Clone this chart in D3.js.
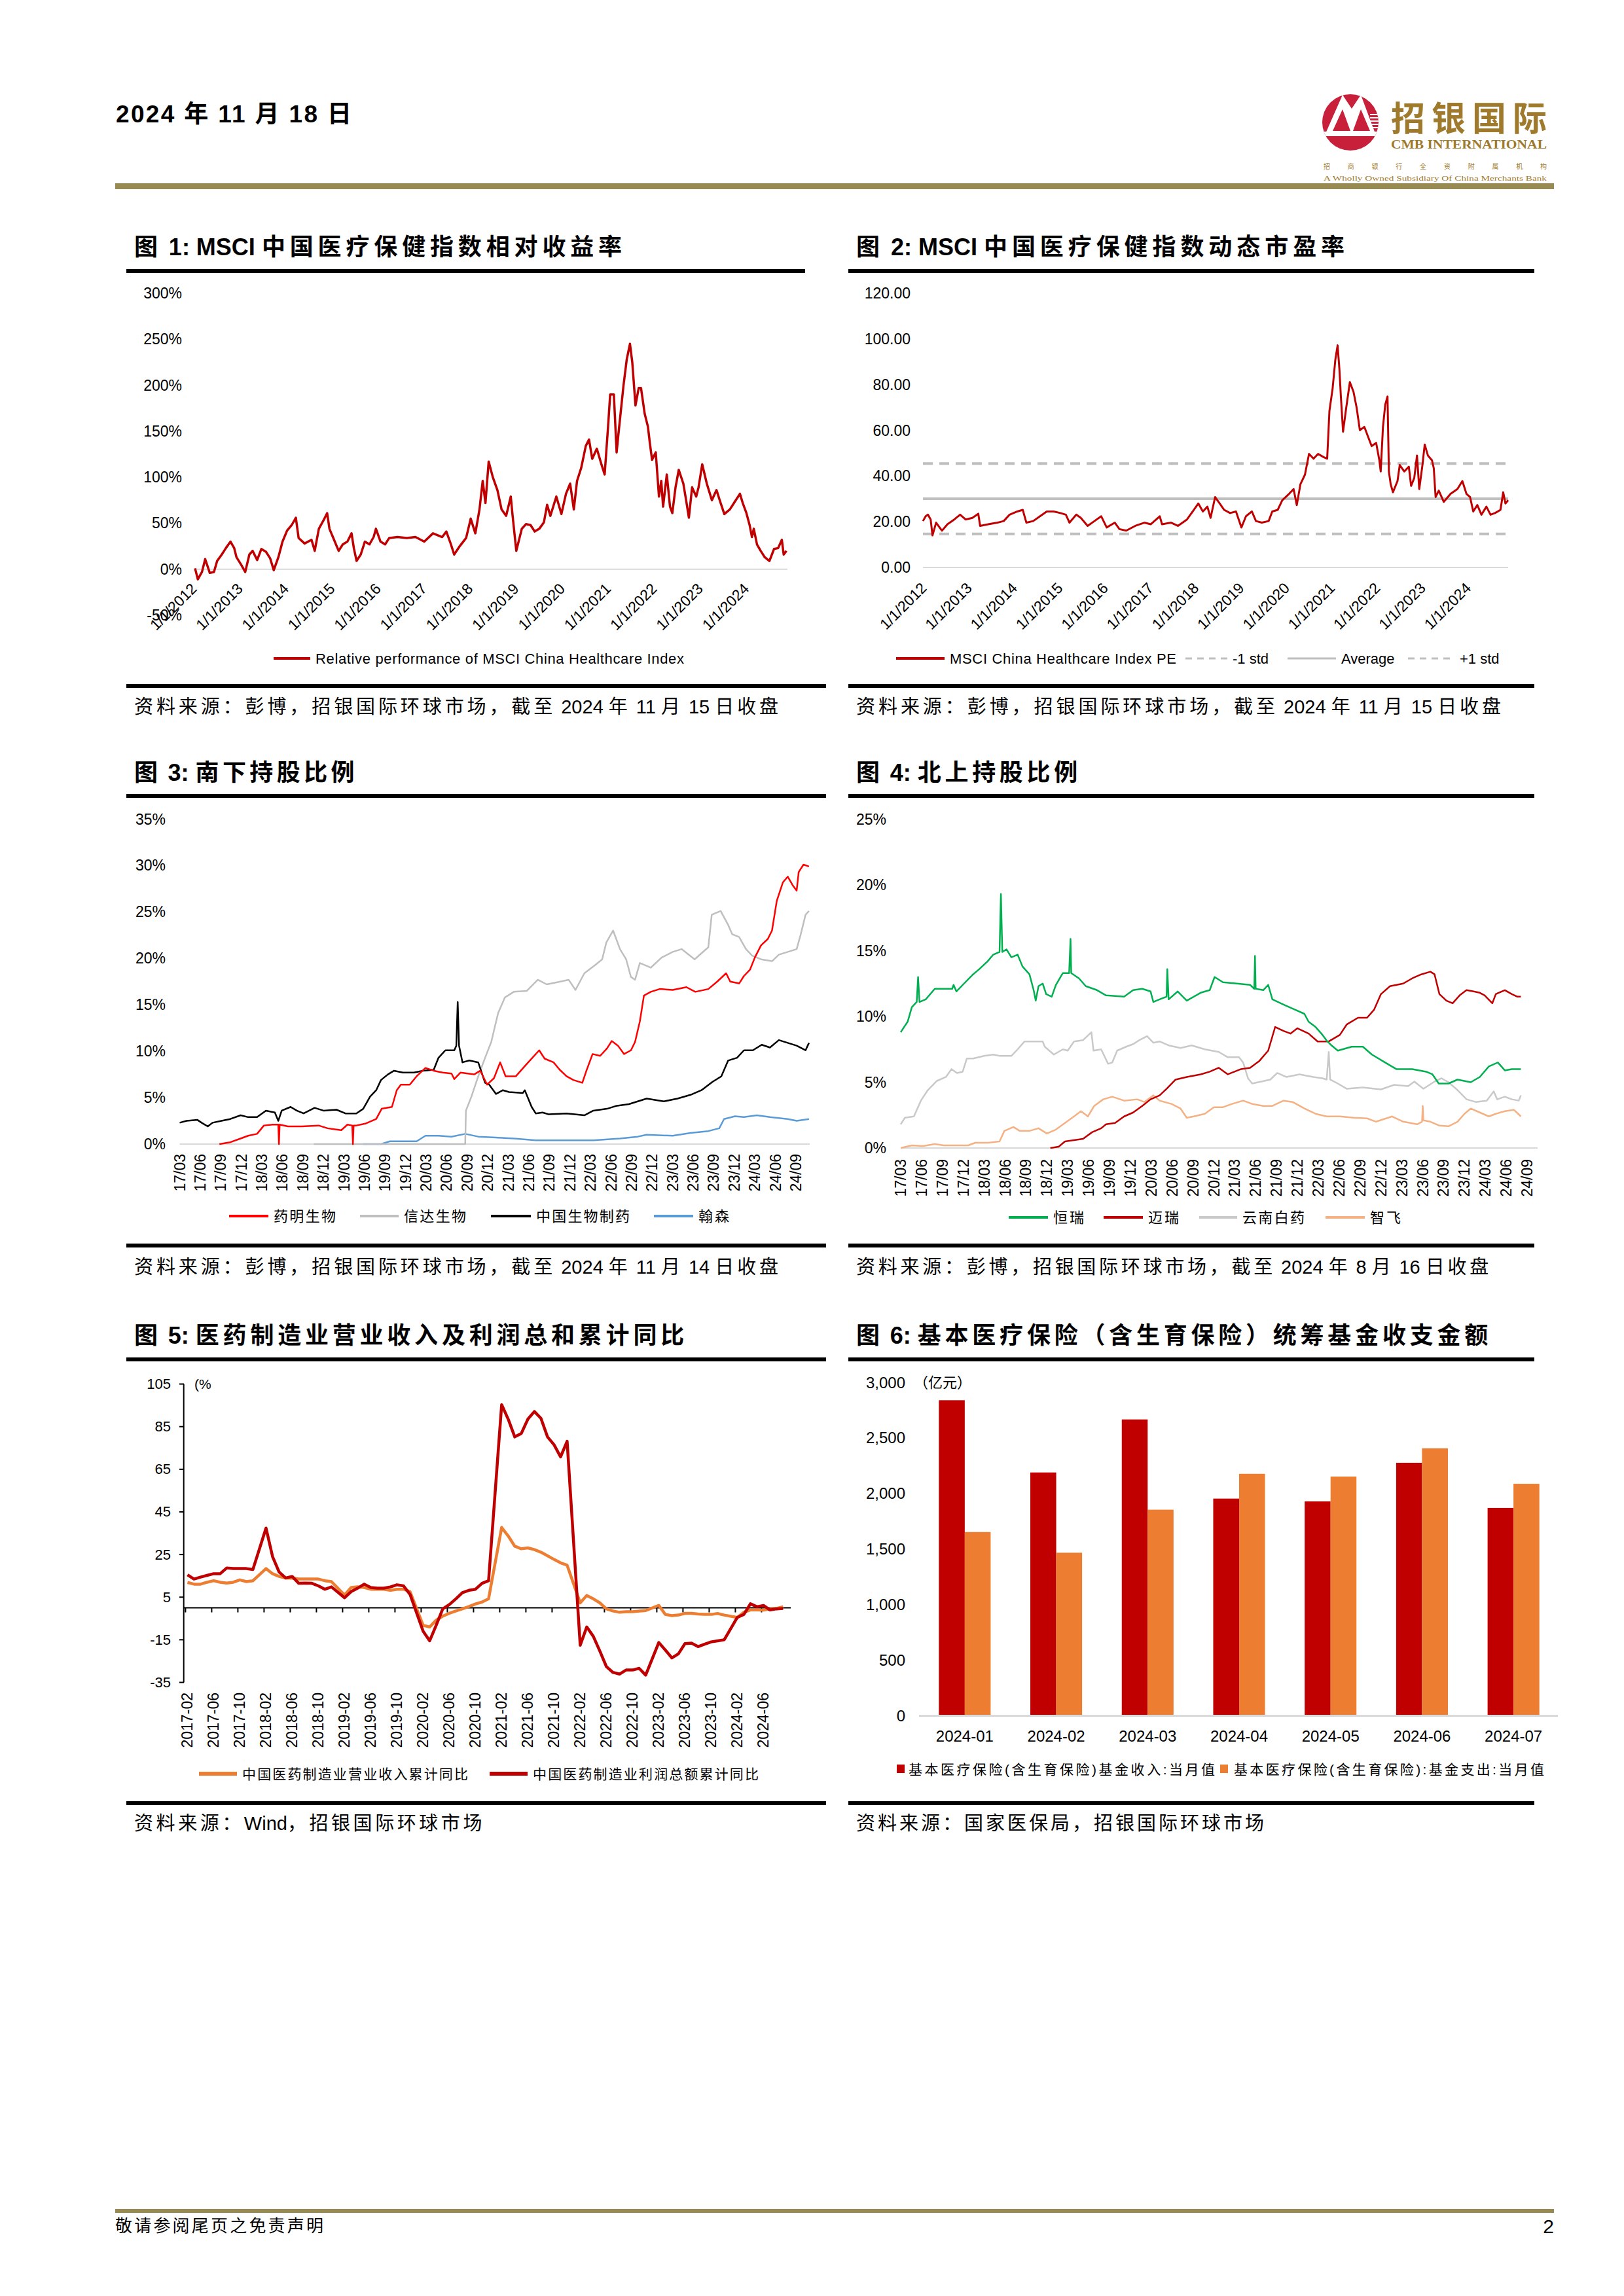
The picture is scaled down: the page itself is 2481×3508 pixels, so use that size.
<!DOCTYPE html>
<html>
<head>
<meta charset="utf-8">
<script src="https://cdn.jsdelivr.net/npm/d3@7"></script>
<style>
body{margin:0;background:#fff}
text{font-family:"Liberation Sans",Arial,"Noto Sans CJK SC",sans-serif;fill:#000}
</style>
</head>
<body>
<div id="page"></div>
<script>

// -----------------------------
// DATA
// -----------------------------

// fig 1: relative performance (year, %)
const relPerf = [[2012.00,1],[2012.06,-11],[2012.15,-3],[2012.22,11],[2012.32,-4],[2012.41,-3],[2012.48,9],[2012.58,16],[2012.67,23],[2012.77,30],[2012.85,23],[2012.90,13],[2013.00,5],[2013.09,-3],[2013.18,16],[2013.25,20],[2013.35,10],[2013.44,22],[2013.54,19],[2013.63,12],[2013.71,-1],[2013.81,13],[2013.90,30],[2014.00,42],[2014.10,48],[2014.19,56],[2014.25,34],[2014.38,28],[2014.53,32],[2014.60,20],[2014.69,44],[2014.79,53],[2014.87,61],[2014.92,44],[2015.02,32],[2015.12,20],[2015.21,27],[2015.31,30],[2015.40,39],[2015.45,23],[2015.51,9],[2015.60,16],[2015.69,30],[2015.79,27],[2015.88,35],[2015.93,44],[2016.03,30],[2016.13,27],[2016.22,34],[2016.40,35],[2016.60,34],[2016.79,35],[2016.98,30],[2017.17,39],[2017.37,35],[2017.46,41],[2017.56,27],[2017.63,16],[2017.75,25],[2017.89,34],[2017.99,55],[2018.09,39],[2018.18,65],[2018.25,96],[2018.31,72],[2018.38,117],[2018.47,100],[2018.57,86],[2018.66,65],[2018.76,58],[2018.86,79],[2018.90,58],[2018.98,20],[2019.10,44],[2019.19,49],[2019.29,48],[2019.38,41],[2019.48,44],[2019.58,51],[2019.65,70],[2019.72,58],[2019.85,79],[2019.96,60],[2020.06,82],[2020.15,93],[2020.23,65],[2020.30,96],[2020.39,110],[2020.49,134],[2020.56,141],[2020.63,120],[2020.73,131],[2020.83,114],[2020.90,103],[2020.97,152],[2021.02,190],[2021.10,190],[2021.16,127],[2021.21,152],[2021.31,200],[2021.38,228],[2021.45,245],[2021.50,225],[2021.57,178],[2021.64,197],[2021.69,197],[2021.77,169],[2021.84,155],[2021.88,138],[2021.93,119],[2022.01,127],[2022.08,79],[2022.13,96],[2022.17,68],[2022.25,103],[2022.32,68],[2022.37,61],[2022.44,89],[2022.51,108],[2022.61,93],[2022.67,75],[2022.73,56],[2022.80,89],[2022.89,79],[2022.94,89],[2023.02,114],[2023.12,93],[2023.23,75],[2023.33,86],[2023.42,72],[2023.50,60],[2023.62,65],[2023.71,72],[2023.84,82],[2023.90,72],[2023.98,61],[2024.05,48],[2024.10,35],[2024.14,44],[2024.21,27],[2024.29,20],[2024.38,13],[2024.48,9],[2024.58,22],[2024.67,23],[2024.75,32],[2024.79,16],[2024.85,20]]

// fig 2: forward PE (year, x)
const peData = [[2012.00,20.3],[2012.06,22.4],[2012.11,23.1],[2012.17,21.0],[2012.21,14.0],[2012.29,19.6],[2012.42,16.1],[2012.54,18.9],[2012.69,21.0],[2012.82,23.1],[2012.94,21.0],[2013.09,21.7],[2013.22,23.5],[2013.26,18.2],[2013.44,18.9],[2013.64,19.6],[2013.78,20.3],[2013.91,23.1],[2014.08,24.5],[2014.20,25.2],[2014.28,19.6],[2014.43,20.3],[2014.58,22.4],[2014.73,24.5],[2014.88,24.5],[2015.03,23.8],[2015.15,23.1],[2015.23,19.6],[2015.38,23.1],[2015.48,21.7],[2015.63,18.2],[2015.78,20.3],[2015.93,22.4],[2016.05,17.5],[2016.23,19.6],[2016.33,16.8],[2016.48,16.1],[2016.68,18.2],[2016.88,19.6],[2017.02,18.9],[2017.22,22.4],[2017.27,18.9],[2017.47,19.6],[2017.62,18.2],[2017.82,21.0],[2017.97,25.2],[2018.07,28.0],[2018.17,24.5],[2018.27,26.6],[2018.34,21.7],[2018.44,30.8],[2018.54,28.0],[2018.64,25.2],[2018.77,23.8],[2018.90,24.5],[2019.02,17.5],[2019.12,22.4],[2019.25,24.5],[2019.34,20.3],[2019.47,19.6],[2019.62,20.3],[2019.70,24.5],[2019.82,25.2],[2019.92,29.4],[2020.07,32.2],[2020.17,34.3],[2020.24,27.3],[2020.32,36.4],[2020.42,40.6],[2020.51,49.7],[2020.61,47.6],[2020.71,49.7],[2020.83,48.3],[2020.91,47.6],[2020.96,68.5],[2021.03,78.3],[2021.09,90.9],[2021.14,97.2],[2021.18,86.7],[2021.21,75.5],[2021.26,59.4],[2021.33,69.9],[2021.41,81.1],[2021.49,76.9],[2021.56,69.9],[2021.63,60.1],[2021.73,61.5],[2021.81,57.3],[2021.89,53.1],[2021.99,54.5],[2022.06,46.9],[2022.09,42.0],[2022.14,61.5],[2022.19,71.3],[2022.24,74.8],[2022.27,42.0],[2022.31,36.4],[2022.36,32.9],[2022.46,37.8],[2022.51,44.8],[2022.61,42.0],[2022.71,44.1],[2022.76,35.7],[2022.83,39.2],[2022.89,49.0],[2022.94,34.3],[2023.01,44.8],[2023.06,53.8],[2023.13,49.0],[2023.22,46.9],[2023.26,43.4],[2023.30,30.8],[2023.37,33.6],[2023.48,28.7],[2023.63,32.2],[2023.78,34.3],[2023.89,37.8],[2023.98,32.2],[2024.06,30.8],[2024.13,24.5],[2024.22,27.3],[2024.31,23.1],[2024.42,26.6],[2024.51,23.1],[2024.61,23.8],[2024.73,25.2],[2024.79,32.9],[2024.84,28.0],[2024.90,29.4]]
const peAverage = 30.1
const pePlusStd = 45.5
const peMinusStd = 14.7

const yearTicks = [2012,2013,2014,2015,2016,2017,2018,2019,2020,2021,2022,2023,2024]

// fig 3 / fig 4: (months since 2017-03, % held)
const quarterLabels = ["17/03","17/06","17/09","17/12","18/03","18/06","18/09","18/12","19/03","19/06","19/09","19/12","20/03","20/06","20/09","20/12","21/03","21/06","21/09","21/12","22/03","22/06","22/09","22/12","23/03","23/06","23/09","23/12","24/03","24/06","24/09"]

const wuxiBio = [[5.8,0],[7.4,0.2],[8.9,0.6],[10,0.9],[11.3,1.1],[12.3,2.0],[13.6,2.1],[14.4,2.1],[14.5,0],[14.6,2.1],[15.8,1.9],[17.8,1.9],[20.3,2.0],[21.6,1.7],[23.6,1.5],[24.5,2.1],[25.2,2.0],[25.3,0],[25.4,2.0],[25.8,2.0],[27.1,2.2],[28.7,2.7],[29.5,3.8],[31,4.0],[31.7,5.8],[32.3,6.4],[33.6,6.4],[34.6,7.3],[35.9,8.2],[37.1,7.9],[38.4,7.7],[39.7,7.6],[40.1,7.0],[41,7.7],[43,7.5],[43.9,7.9],[44.9,6.4],[45.9,7.1],[46.8,8.8],[47.6,7.3],[49.1,7.3],[50.4,8.4],[52.5,10.1],[53.3,9.2],[54.6,8.8],[55.5,8.0],[56.5,7.3],[57.5,6.9],[58.8,6.6],[59.4,7.9],[60.3,9.7],[61.4,9.5],[62.4,10.3],[63.1,11.1],[64,10.6],[64.9,9.7],[65.9,10.1],[66.5,11.0],[67.2,13.2],[67.8,16.0],[68.8,16.4],[70.1,16.7],[72,16.6],[74,16.9],[75.3,16.4],[77.2,16.7],[78.5,17.5],[79.8,18.4],[80.4,17.5],[81.7,17.3],[82.4,18.1],[83.3,18.8],[84,20.1],[84.9,21.4],[85.9,22.1],[86.5,23.0],[87.2,26.2],[88.1,28.2],[88.8,28.8],[89.5,27.9],[90.1,27.3],[90.4,29.3],[91.1,30.1],[91.9,29.9]]
const innovent = [[19.6,0],[41.7,0],[41.8,3.6],[42.6,5.1],[43.6,7.3],[44.6,9.3],[45.5,11.0],[46.5,14.1],[47.5,15.8],[48.8,16.4],[50.7,16.5],[52.3,17.7],[53.6,17.2],[55.6,17.5],[56.8,17.7],[57.8,16.6],[59.1,18.4],[60.7,19.3],[61.7,19.9],[62.3,21.7],[63.3,23.0],[64.3,21.0],[65.2,19.9],[65.9,18.0],[66.5,17.7],[67.2,19.5],[68.8,19.0],[70.4,20.1],[72,20.7],[73.3,21.0],[75.2,19.9],[77.2,21.2],[77.7,24.7],[79,25.1],[80.1,23.6],[80.7,22.6],[81.7,22.3],[82.7,21.0],[83.6,20.3],[84.9,19.9],[86.5,19.7],[87.5,20.4],[88.8,20.7],[90.1,21.0],[90.7,22.6],[91.4,24.7],[91.9,25.1]]
const sinoBiopharm = [[0,2.3],[1,2.5],[2.6,2.6],[3.2,2.3],[4.1,1.9],[4.8,2.3],[6.1,2.5],[7.4,2.7],[8.9,3.1],[10,2.9],[11.3,2.9],[12.6,3.6],[13.9,3.4],[14.4,2.5],[14.9,3.6],[16.2,4.0],[17.1,3.6],[18.1,3.3],[19.7,3.9],[21,3.6],[22.9,3.7],[24.2,3.3],[25.8,3.3],[26.8,3.8],[27.8,5.1],[28.7,5.8],[29.4,6.9],[30.4,7.5],[31.3,7.9],[32.6,7.7],[34.2,7.7],[35.5,7.9],[37.1,8.0],[37.8,9.3],[38.8,10.1],[40.1,10.1],[40.4,10.6],[40.6,15.3],[40.8,10.6],[41.3,8.8],[42.3,9.0],[43.6,8.8],[44.6,6.6],[45.2,6.4],[46.2,5.4],[47.2,5.8],[48.1,5.6],[50.1,5.5],[50.4,5.8],[51.4,4.0],[52,3.3],[53,3.4],[53.9,3.2],[56.5,3.3],[59.1,3.1],[60.4,3.6],[62.4,3.8],[63.7,4.1],[65.6,4.3],[68.2,4.9],[70.7,4.6],[72.7,4.9],[74.6,5.3],[76.2,5.8],[77.8,6.7],[79.1,7.3],[80.1,9.0],[81.4,9.3],[82.4,10.1],[83.7,10.1],[85,10.7],[86.2,10.4],[87.5,11.2],[88.8,10.9],[90.1,10.6],[91.4,10.1],[91.9,10.9]]
const hansoh = [[26.8,0],[29.4,0],[30.7,0.3],[32.6,0.3],[34.6,0.3],[35.9,0.9],[37.8,0.9],[39.7,0.8],[41.7,1.1],[43.6,0.8],[46.2,0.7],[48.8,0.6],[52,0.4],[56.5,0.4],[60.4,0.4],[64.3,0.6],[66.9,0.8],[68.2,1.0],[72,0.9],[74.6,1.2],[77.2,1.4],[78.8,1.7],[79.5,2.7],[81.1,3.0],[82.4,2.9],[84.3,3.1],[86.2,2.9],[88.8,2.7],[90.1,2.5],[91.9,2.7]]

const hengrui = [[0,8.8],[1,9.6],[1.6,10.7],[2.3,11.1],[2.5,13.0],[2.7,11.1],[3.6,11.3],[4.9,12.1],[5.8,12.1],[7.4,12.1],[7.6,12.4],[8,11.9],[9.1,12.5],[10.4,13.2],[11.3,13.6],[12.5,14.2],[13.3,14.7],[14.2,14.9],[14.4,19.3],[14.6,14.9],[15.2,15.1],[15.9,14.5],[16.8,14.7],[17.5,13.8],[18.5,13.2],[19.1,12.0],[19.4,11.2],[19.8,12.3],[20.4,12.5],[20.9,11.7],[21.7,11.5],[22.3,12.4],[23.3,13.3],[24.2,13.3],[24.4,15.9],[24.5,13.3],[25.6,12.9],[26.6,12.3],[28.2,12.0],[29.5,11.6],[32.1,11.5],[33.4,12.0],[34.7,12.1],[35.9,11.9],[36.3,11.1],[37.2,11.3],[38.2,11.5],[38.3,13.6],[38.5,11.3],[39.8,11.9],[41.1,11.2],[43.1,11.8],[44.4,12.0],[45.1,13.0],[46.3,12.6],[48.3,12.5],[50.2,12.4],[50.8,12.1],[50.9,14.6],[51,12.1],[52.1,12.0],[52.8,12.4],[53.4,11.3],[55,10.9],[56.7,10.5],[58,10.2],[58.6,9.6],[59.6,9.2],[60.6,8.6],[61.3,8.1],[61.9,7.8],[62.8,7.4],[64.8,7.7],[66.4,7.7],[67.7,7.1],[69.6,6.5],[71.2,6.0],[73.5,6.0],[75.5,5.8],[76.4,5.6],[77.3,4.9],[78.7,4.9],[80,5.2],[81.9,5.0],[83.2,5.4],[84.5,6.2],[85.8,6.5],[86.8,5.9],[87.8,6.0],[89.1,6.0]]
const mindray = [[21.5,0],[22.7,0.1],[23.6,0.5],[24.9,0.6],[26.2,0.7],[27.5,1.2],[28.8,1.5],[29.5,1.8],[30.8,1.9],[32.1,2.4],[33.4,2.7],[34.7,3.2],[35.9,3.7],[37.2,4.0],[38.2,4.5],[39.5,5.2],[41.1,5.4],[43.1,5.6],[44.4,5.8],[45.7,6.1],[47,5.6],[48.9,6.0],[50.2,6.1],[51.5,6.6],[52.8,7.4],[53.8,9.2],[55,8.9],[56,8.7],[57,9.1],[58.6,8.7],[59.9,8.1],[61.5,8.1],[63.1,8.6],[64.1,9.4],[65.7,9.9],[67,9.9],[68,10.5],[69,11.7],[70.3,12.3],[72.2,12.5],[73.5,12.9],[74.8,13.2],[76.1,13.4],[76.7,13.2],[77.4,11.7],[78.4,11.2],[79.3,11.0],[80.3,11.6],[81.3,12.0],[82.3,11.9],[83.2,11.8],[83.9,11.6],[85,11.0],[85.5,11.7],[86.8,12.0],[87.8,11.7],[88.6,11.5],[89.1,11.5]]
const yunnanBaiyao = [[0,1.8],[0.6,2.3],[1.9,2.4],[2.9,3.6],[3.9,4.4],[5.2,5.1],[6.5,5.4],[7.3,6.0],[8.1,5.7],[8.9,5.8],[9.5,6.8],[10.4,6.8],[12,7.0],[13.3,7.1],[14.2,7.0],[15.9,7.0],[16.8,7.5],[17.8,8.1],[19.1,8.1],[20.4,8.1],[20.7,7.7],[22,7.1],[23.3,7.5],[24,7.4],[24.9,8.1],[26.2,8.2],[27.4,8.8],[27.7,7.4],[28.8,7.5],[29.8,6.4],[30.4,6.5],[31.1,7.4],[32.4,7.7],[33.4,7.9],[34.3,8.2],[35.4,8.5],[36.3,8.0],[37.2,8.1],[38.5,7.8],[40.2,7.6],[41.8,7.8],[43.7,7.5],[45.7,7.3],[47,6.9],[48.6,6.9],[49.2,6.5],[49.9,5.3],[50.5,4.9],[51.8,5.05],[53.1,5.2],[54.1,5.7],[55.4,5.4],[57.3,5.6],[59.3,5.4],[60.6,5.3],[61.2,5.2],[61.5,7.3],[61.7,5.2],[62.8,4.9],[64.1,4.5],[66.4,4.6],[69,4.45],[70.9,4.8],[72.9,4.7],[73.8,5.05],[75.1,4.5],[76.7,5.05],[77.7,5.3],[78.7,5.0],[80,4.4],[81.3,3.7],[82.6,3.5],[84.2,3.6],[85.2,4.3],[85.7,3.7],[86.8,3.9],[87.8,3.7],[88.8,3.6],[89.1,4.0]]
const zhifei = [[0,0],[1.6,0.2],[3.2,0.15],[4.9,0.3],[6.2,0.2],[8.4,0.2],[9.7,0.2],[10.7,0.4],[12.6,0.4],[14.2,0.5],[14.9,1.3],[16.2,1.6],[17.1,1.3],[18.5,1.3],[19.8,1.5],[21,1.1],[22.3,1.4],[23.6,1.9],[24.9,2.4],[25.9,2.8],[26.9,2.4],[27.8,3.2],[29.1,3.7],[30.4,3.9],[32.1,3.6],[34,3.7],[35,3.5],[36.3,4.0],[37.2,3.6],[38.9,3.35],[40.2,3.0],[41.1,2.3],[42.1,2.4],[43.7,2.6],[45,3.1],[46.3,3.1],[47.6,3.35],[49.2,3.6],[50.5,3.35],[52.1,3.2],[53.4,3.2],[55,3.6],[56.3,3.5],[58,3.0],[59.6,2.6],[61.2,2.4],[63.1,2.4],[65.1,2.3],[67,2.25],[68.3,2.0],[70.6,2.4],[72.2,2.0],[74.2,1.8],[74.9,2.0],[75,3.2],[75.1,2.1],[76.1,2.0],[77.4,1.7],[78.7,1.65],[80,2.0],[81,2.6],[81.9,3.0],[83.2,2.7],[84.5,2.4],[85.5,2.6],[86.8,2.8],[88.1,2.9],[89.1,2.4]]

// fig 5: pharma manufacturing cumulative yoy (%)
const mfgMonths = ["2017-02","2017-03","2017-04","2017-05","2017-06","2017-07","2017-08","2017-09","2017-10","2017-11","2017-12",
"2018-02","2018-03","2018-04","2018-05","2018-06","2018-07","2018-08","2018-09","2018-10","2018-11","2018-12",
"2019-02","2019-03","2019-04","2019-05","2019-06","2019-07","2019-08","2019-09","2019-10","2019-11","2019-12",
"2020-02","2020-03","2020-04","2020-05","2020-06","2020-07","2020-08","2020-09","2020-10","2020-11","2020-12",
"2021-02","2021-03","2021-04","2021-05","2021-06","2021-07","2021-08","2021-09","2021-10","2021-11","2021-12",
"2022-02","2022-03","2022-04","2022-05","2022-06","2022-07","2022-08","2022-09","2022-10","2022-11","2022-12",
"2023-02","2023-03","2023-04","2023-05","2023-06","2023-07","2023-08","2023-09","2023-10","2023-11","2023-12",
"2024-02","2024-03","2024-04","2024-05","2024-06","2024-07","2024-08","2024-09"]
const revenueYoY = [11.9,11.1,11.1,12.0,12.7,12.0,11.6,12.0,13.1,12.3,12.7,
18.4,16.0,14.7,14.0,13.9,13.5,13.5,13.5,13.5,12.7,12.3,
6.0,9.5,9.8,9.5,8.7,8.7,8.7,8.2,8.7,8.7,7.6,
-8.2,-9.0,-5.8,-3.9,-2.6,-1.5,-0.5,0.6,1.8,2.7,4.2,
37.7,33.7,28.9,27.7,28.1,27.3,26.1,24.4,22.7,21.1,20.0,
2.3,5.8,4.2,2.3,-0.5,-1.5,-2.1,-1.8,-1.8,-1.5,-1.3,
1.1,-3.1,-3.7,-3.4,-2.6,-2.6,-2.9,-3.1,-3.1,-2.7,-3.4,
-4.5,-2.1,-1.0,-1.0,-1.1,-0.5,-0.3,0.5]
const profitYoY = [15.5,13.5,14.4,15.2,16.0,16.0,18.7,18.4,18.4,18.4,18.0,
37.4,24.0,16.8,14.0,14.7,11.5,11.6,11.5,10.3,8.7,9.8,
4.7,7.6,9.2,11.1,9.5,9.2,9.2,9.8,10.8,10.3,6.3,
-11.0,-15.5,-8.2,-0.5,1.5,4.2,7.1,8.2,8.7,11.5,12.7,
95.3,88.5,80.2,81.8,88.5,92.1,88.9,80.2,76.5,70.8,78.1,
-17.6,-9.0,-13.4,-20.3,-27.6,-30.3,-31.1,-29.2,-29.2,-28.4,-31.6,
-16.3,-19.8,-23.5,-21.6,-16.8,-16.6,-18.2,-17.1,-16.0,-15.5,-15.0,
-4.5,-3.1,1.9,0.5,1.1,-1.0,-0.5,-0.3]
const mfgTickLabels = ["2017-02","2017-06","2017-10","2018-02","2018-06","2018-10","2019-02","2019-06","2019-10","2020-02","2020-06","2020-10","2021-02","2021-06","2021-10","2022-02","2022-06","2022-10","2023-02","2023-06","2023-10","2024-02","2024-06"]

// fig 6: medical insurance fund, 100m yuan
const fundMonths = ["2024-01","2024-02","2024-03","2024-04","2024-05","2024-06","2024-07"]
const fundIncome = [2839,2189,2666,1954,1929,2276,1870]
const fundExpense = [1653,1467,1854,2177,2152,2406,2087]


// -----------------------------
// PAGE
// -----------------------------

const W = 2481
const H = 3508
const OLIVE = "#978b52"
const GOLD = "#a07a2c"
const CJK = "'Noto Sans CJK SC',sans-serif"
const CJK_RE = /[\u3000-\u303f\u4e00-\u9fff\uff00-\uffef]/

const svg = d3.select("#page")
.append("svg")
.attr("width",W)
.attr("height",H)
.style("display","block")

svg.append("rect").attr("width",W).attr("height",H).attr("fill","#fff")

// text with latin runs kept tight and chinese runs spread to hit a width
function mixedText(x,y,str,size,weight,targetW){
const t = svg.append("text")
.attr("x",x)
.attr("y",y)
.attr("dominant-baseline","central")
.attr("font-size",size)
.attr("font-weight",weight)
const runs = str.match(/[\u3000-\u303f\u4e00-\u9fff\uff00-\uffef]+|[^\u3000-\u303f\u4e00-\u9fff\uff00-\uffef]+/g)
runs.forEach(r=>{
const sp = t.append("tspan").text(r)
if(CJK_RE.test(r)) sp.classed("cjk",true)
})
const w = t.node().getComputedTextLength()
const n = str.split("").filter(c=>CJK_RE.test(c)).length
const ls = Math.max(0,(targetW-w)/n)
t.selectAll("tspan.cjk").attr("letter-spacing",ls)
return t
}

drawHeader()
drawFooter()

// title / rules / source for each panel
const panels = [
{x0:193,x1:1262,topX1:1230,titleY:377,ruleY:411,bottomY:1045,srcY:1080,title:"图 1: MSCI 中国医疗保健指数相对收益率",titleW:752,src:"资料来源：彭博，招银国际环球市场，截至 2024 年 11 月 15 日收盘",srcW:989},
{x0:1296,x1:2344,topX1:2344,titleY:377,ruleY:411,bottomY:1045,srcY:1080,title:"图 2: MSCI 中国医疗保健指数动态市盈率",titleW:753,src:"资料来源：彭博，招银国际环球市场，截至 2024 年 11 月 15 日收盘",srcW:990},
{x0:193,x1:1262,topX1:1262,titleY:1180,ruleY:1213,bottomY:1900,srcY:1936,title:"图 3: 南下持股比例",titleW:342,src:"资料来源：彭博，招银国际环球市场，截至 2024 年 11 月 14 日收盘",srcW:989},
{x0:1296,x1:2344,topX1:2344,titleY:1180,ruleY:1213,bottomY:1900,srcY:1936,title:"图 4: 北上持股比例",titleW:344,src:"资料来源：彭博，招银国际环球市场，截至 2024 年 8 月 16 日收盘",srcW:971},
{x0:193,x1:1262,topX1:1262,titleY:2040,ruleY:2074,bottomY:2752,srcY:2786,title:"图 5: 医药制造业营业收入及利润总和累计同比",titleW:846,src:"资料来源：Wind，招银国际环球市场",srcW:536},
{x0:1296,x1:2344,topX1:2344,titleY:2040,ruleY:2074,bottomY:2752,srcY:2786,title:"图 6: 基本医疗保险（含生育保险）统筹基金收支金额",titleW:971,src:"资料来源：国家医保局，招银国际环球市场",srcW:627}
]

panels.forEach(p=>{

mixedText(p.x0+12,p.titleY,p.title,36,"bold",p.titleW)

svg.append("rect").attr("x",p.x0).attr("y",p.ruleY).attr("width",p.topX1-p.x0).attr("height",6).attr("fill","#000")
svg.append("rect").attr("x",p.x0).attr("y",p.bottomY).attr("width",p.x1-p.x0).attr("height",6).attr("fill","#000")

mixedText(p.x0+12,p.srcY,p.src,29,"normal",p.srcW)

})

drawRelPerf()
drawPE()
drawSouthbound()
drawNorthbound()
drawMfg()
drawFund()


// -----------------------------
// HEADER / FOOTER
// -----------------------------

function drawHeader(){

svg.append("text")
.attr("x",177)
.attr("y",174)
.attr("dominant-baseline","central")
.attr("font-size",37)
.attr("font-weight","bold")
.attr("textLength",360)
.attr("lengthAdjust","spacing")
.text("2024 年 11 月 18 日")

const logo = svg.append("g")

logo.append("clipPath").attr("id","logoClip")
.append("circle").attr("cx",2063).attr("cy",187).attr("r",43)

const inner = logo.append("g").attr("clip-path","url(#logoClip)")
inner.append("rect").attr("x",2018).attr("y",142).attr("width",90).attr("height",90).attr("fill","#c8203a")
inner.append("path").attr("d","M2025,204 L2051,145 L2065,166 L2079,145 L2101,204 Z").attr("fill","#fff")
inner.append("path").attr("d","M2036,200 L2051,167 L2063,200 Z M2067,200 L2079,167 L2093,200 Z").attr("fill","#c8203a")
inner.append("rect").attr("x",2018).attr("y",201).attr("width",90).attr("height",7).attr("fill","#fff")
;[174,179,184,189,194].forEach(yy=>{
inner.append("rect").attr("x",2093).attr("y",yy).attr("width",16).attr("height",2).attr("fill","#fff")
})

logo.append("text")
.attr("x",2125).attr("y",177)
.attr("dominant-baseline","central")
.attr("font-size",52)
.attr("font-weight","bold")
.attr("textLength",238)
.attr("lengthAdjust","spacing")
.style("fill",GOLD)
.style("font-family",CJK)
.text("招银国际")

logo.append("text")
.attr("x",2125).attr("y",220)
.attr("dominant-baseline","central")
.attr("font-size",19)
.attr("font-weight","bold")
.attr("textLength",238)
.attr("lengthAdjust","spacingAndGlyphs")
.style("fill",GOLD)
.style("font-family","'Liberation Serif',serif")
.text("CMB INTERNATIONAL")

logo.append("text")
.attr("x",2022).attr("y",253)
.attr("dominant-baseline","central")
.attr("font-size",10)
.attr("textLength",341)
.attr("lengthAdjust","spacing")
.style("fill",GOLD)
.style("font-family",CJK)
.text("招商银行全资附属机构")

logo.append("text")
.attr("x",2022).attr("y",272)
.attr("dominant-baseline","central")
.attr("font-size",11)
.attr("textLength",341)
.attr("lengthAdjust","spacingAndGlyphs")
.style("fill",GOLD)
.style("font-family","'Liberation Serif',serif")
.text("A Wholly Owned Subsidiary Of China Merchants Bank")

svg.append("rect").attr("x",176).attr("y",280).attr("width",2198).attr("height",9).attr("fill",OLIVE)

}

function drawFooter(){

svg.append("rect").attr("x",176).attr("y",3375).attr("width",2198).attr("height",6).attr("fill",OLIVE)

svg.append("text")
.attr("x",176).attr("y",3401)
.attr("dominant-baseline","central")
.attr("font-size",26)
.attr("textLength",318)
.attr("lengthAdjust","spacing")
.text("敬请参阅尾页之免责声明")

svg.append("text")
.attr("x",2374).attr("y",3401)
.attr("dominant-baseline","central")
.attr("text-anchor","end")
.attr("font-size",30)
.text("2")

}


// -----------------------------
// SHARED BITS
// -----------------------------

function yLabels(ticks,y,x,size,fmt){
svg.append("g")
.selectAll("text")
.data(ticks)
.enter()
.append("text")
.attr("x",x)
.attr("y",d=>y(d))
.attr("text-anchor","end")
.attr("dominant-baseline","central")
.attr("font-size",size)
.text(fmt)
}

function hLine(x1,x2,yy,color,w,dash){
const l = svg.append("line")
.attr("x1",x1).attr("x2",x2)
.attr("y1",yy).attr("y2",yy)
.attr("stroke",color)
.attr("stroke-width",w)
if(dash) l.attr("stroke-dasharray",dash)
return l
}

function drawSeries(data,x,y,color,w){
const line = d3.line()
.x(d=>x(d[0]))
.y(d=>y(d[1]))
svg.append("path")
.datum(data)
.attr("fill","none")
.attr("stroke",color)
.attr("stroke-width",w)
.attr("stroke-linejoin","round")
.attr("d",line)
}

function legendLine(x1,x2,yy,color,w,label,size,dash,tl){
hLine(x1,x2,yy,color,w,dash)
if(!label) return
const t = svg.append("text")
.attr("x",x2+8)
.attr("y",yy)
.attr("dominant-baseline","central")
.attr("font-size",size)
.text(label)
if(tl) t.attr("textLength",tl).attr("lengthAdjust","spacing")
}


// -----------------------------
// FIG 1
// -----------------------------

function drawRelPerf(){

const x = d3.scaleLinear().domain([2012,2025]).range([298,1212])
const y = d3.scaleLinear().domain([-50,300]).range([940,448])

yLabels(d3.range(-50,301,50),y,278,23,d=>d+"%")

hLine(x(2012),x(2024.87),y(0),"#d9d9d9",2)

svg.append("g")
.selectAll("text")
.data(yearTicks)
.enter()
.append("text")
.attr("transform",d=>`translate(${x(d)+4},901) rotate(-45)`)
.attr("text-anchor","end")
.attr("font-size",23)
.text(d=>"1/1/"+d)

drawSeries(relPerf,x,y,"#c00000",3.5)

legendLine(418,474,1006,"#c00000",4,"Relative performance of MSCI China Healthcare Index",22,null,563)

}


// -----------------------------
// FIG 2
// -----------------------------

function drawPE(){

const x = d3.scaleLinear().domain([2012,2025]).range([1410,2311])
const y = d3.scaleLinear().domain([0,120]).range([867,448])
const xEnd = x(2024.9)

yLabels(d3.range(0,121,20),y,1391,23,d3.format(".2f"))

hLine(x(2012),xEnd,y(0),"#d9d9d9",2)
hLine(x(2012),xEnd,y(pePlusStd),"#bfbfbf",4,"15,10")
hLine(x(2012),xEnd,y(peMinusStd),"#bfbfbf",4,"15,10")
hLine(x(2012),xEnd,y(peAverage),"#bfbfbf",4)

svg.append("g")
.selectAll("text")
.data(yearTicks)
.enter()
.append("text")
.attr("transform",d=>`translate(${x(d)+7},900) rotate(-45)`)
.attr("text-anchor","end")
.attr("font-size",23)
.text(d=>"1/1/"+d)

drawSeries(peData,x,y,"#c00000",3)

legendLine(1369,1443,1006,"#c00000",4,"MSCI China Healthcare Index PE",22,null,346)
legendLine(1811,1875,1006,"#bfbfbf",3,"-1 std",22,"10,8")
legendLine(1967,2041,1006,"#bfbfbf",3,"Average",22)
legendLine(2151,2222,1006,"#bfbfbf",3,"+1 std",22,"10,8")

}


// -----------------------------
// FIG 3
// -----------------------------

function drawSouthbound(){

const x = d3.scaleLinear().domain([0,90]).range([274.5,1216])
const y = d3.scaleLinear().domain([0,35]).range([1748,1251.5])

yLabels(d3.range(0,36,5),y,253,23,d=>d+"%")

hLine(274.5,1237,y(0),"#d9d9d9",2)

svg.append("g")
.selectAll("text")
.data(quarterLabels)
.enter()
.append("text")
.attr("transform",(d,i)=>`translate(${x(i*3)},1763) rotate(-90)`)
.attr("text-anchor","end")
.attr("dominant-baseline","central")
.attr("font-size",23)
.text(d=>d)

drawSeries(hansoh,x,y,"#5b9bd5",2.5)
drawSeries(innovent,x,y,"#bfbfbf",2.5)
drawSeries(sinoBiopharm,x,y,"#000",2.5)
drawSeries(wuxiBio,x,y,"#ff0000",2.5)

const ly = 1858
legendLine(350,410,ly,"#ff0000",4,"药明生物",22,null,95)
legendLine(550,609,ly,"#bfbfbf",4,"信达生物",22,null,95)
legendLine(750,811,ly,"#000",4,"中国生物制药",22,null,143)
legendLine(999,1059,ly,"#5b9bd5",4,"翰森",22,null,47)

}


// -----------------------------
// FIG 4
// -----------------------------

function drawNorthbound(){

const x = d3.scaleLinear().domain([0,90]).range([1376,2333])
const y = d3.scaleLinear().domain([0,25]).range([1754,1251.5])

yLabels(d3.range(0,26,5),y,1354,23,d=>d+"%")

hLine(1376,2349,y(0),"#d9d9d9",2)

svg.append("g")
.selectAll("text")
.data(quarterLabels)
.enter()
.append("text")
.attr("transform",(d,i)=>`translate(${x(i*3)},1771) rotate(-90)`)
.attr("text-anchor","end")
.attr("dominant-baseline","central")
.attr("font-size",23)
.text(d=>d)

drawSeries(zhifei,x,y,"#f4b183",2.5)
drawSeries(yunnanBaiyao,x,y,"#c9c9c9",2.5)
drawSeries(mindray,x,y,"#c00000",2.5)
drawSeries(hengrui,x,y,"#00b050",2.5)

const ly = 1860
legendLine(1541,1601,ly,"#00b050",4,"恒瑞",22,null,47)
legendLine(1686,1746,ly,"#c00000",4,"迈瑞",22,null,47)
legendLine(1832,1890,ly,"#c9c9c9",4,"云南白药",22,null,95)
legendLine(2025,2085,ly,"#f4b183",4,"智飞",22,null,47)

}


// -----------------------------
// FIG 5
// -----------------------------

function drawMfg(){

const monthIdx = s=>(+s.slice(0,4)-2017)*12+(+s.slice(5,7)-2)

const x = d3.scaleLinear().domain([0,92]).range([286.4,1206.4])
const y = d3.scaleLinear().domain([-35,105]).range([2570.5,2114.6])
const yTicks = [-35,-15,5,25,45,65,85,105]

// y axis
svg.append("line")
.attr("x1",280.7).attr("x2",280.7)
.attr("y1",y(105)).attr("y2",y(-35))
.attr("stroke","#000").attr("stroke-width",2)

svg.append("g")
.selectAll("line")
.data(yTicks)
.enter()
.append("line")
.attr("x1",274).attr("x2",281)
.attr("y1",d=>y(d)).attr("y2",d=>y(d))
.attr("stroke","#000").attr("stroke-width",2)

yLabels(yTicks,y,261,22,d=>d)

svg.append("text")
.attr("x",297).attr("y",y(105))
.attr("dominant-baseline","central")
.attr("font-size",21)
.text("(%")

// x axis at zero
hLine(280.7,1208,y(0),"#000",2)

svg.append("g")
.selectAll("line")
.data(mfgTickLabels)
.enter()
.append("line")
.attr("x1",d=>x(monthIdx(d))-3).attr("x2",d=>x(monthIdx(d))-3)
.attr("y1",y(0)).attr("y2",y(0)+7)
.attr("stroke","#000").attr("stroke-width",2)

svg.append("g")
.selectAll("text")
.data(mfgTickLabels)
.enter()
.append("text")
.attr("transform",d=>`translate(${x(monthIdx(d))},2586) rotate(-90)`)
.attr("text-anchor","end")
.attr("dominant-baseline","central")
.attr("font-size",23)
.text(d=>d)

const rev = mfgMonths.map((m,i)=>[monthIdx(m),revenueYoY[i]])
const prof = mfgMonths.map((m,i)=>[monthIdx(m),profitYoY[i]])

drawSeries(rev,x,y,"#ed7d31",4.5)
drawSeries(prof,x,y,"#c00000",4.5)

legendLine(304,362,2710,"#ed7d31",6,"中国医药制造业营业收入累计同比",21,null,345)
legendLine(748,806,2710,"#c00000",6,"中国医药制造业利润总额累计同比",21,null,345)

}


// -----------------------------
// FIG 6
// -----------------------------

function drawFund(){

const x = d3.scaleBand().domain(fundMonths).range([1404,2382])
const y = d3.scaleLinear().domain([0,3000]).range([2621.5,2112])
const bw = x.bandwidth()*0.283

yLabels(d3.range(0,3001,500),y,1383,24,d3.format(","))

svg.append("text")
.attr("x",1396).attr("y",y(3000))
.attr("dominant-baseline","central")
.attr("font-size",22)
.text("（亿元）")

svg.append("g")
.selectAll("rect")
.data(fundMonths)
.enter()
.append("rect")
.attr("x",(d)=>x(d)+x.bandwidth()/2-bw)
.attr("y",(d,i)=>y(fundIncome[i]))
.attr("width",bw)
.attr("height",(d,i)=>y(0)-y(fundIncome[i]))
.attr("fill","#c00000")

svg.append("g")
.selectAll("rect")
.data(fundMonths)
.enter()
.append("rect")
.attr("x",(d)=>x(d)+x.bandwidth()/2)
.attr("y",(d,i)=>y(fundExpense[i]))
.attr("width",bw)
.attr("height",(d,i)=>y(0)-y(fundExpense[i]))
.attr("fill","#ed7d31")

hLine(1404,2380,y(0),"#d9d9d9",3)

svg.append("g")
.selectAll("text")
.data(fundMonths)
.enter()
.append("text")
.attr("x",d=>x(d)+x.bandwidth()/2)
.attr("y",2652)
.attr("text-anchor","middle")
.attr("dominant-baseline","central")
.attr("font-size",24)
.text(d=>d)

// legend
svg.append("rect").attr("x",1370).attr("y",2696).attr("width",12).attr("height",13).attr("fill","#c00000")
svg.append("text")
.attr("x",1388).attr("y",2703)
.attr("dominant-baseline","central")
.attr("font-size",21)
.attr("textLength",468)
.attr("lengthAdjust","spacing")
.text("基本医疗保险(含生育保险)基金收入:当月值")

svg.append("rect").attr("x",1864).attr("y",2696).attr("width",12).attr("height",13).attr("fill","#ed7d31")
svg.append("text")
.attr("x",1885).attr("y",2703)
.attr("dominant-baseline","central")
.attr("font-size",21)
.attr("textLength",474)
.attr("lengthAdjust","spacing")
.text("基本医疗保险(含生育保险):基金支出:当月值")

}

</script>
</body>
</html>
